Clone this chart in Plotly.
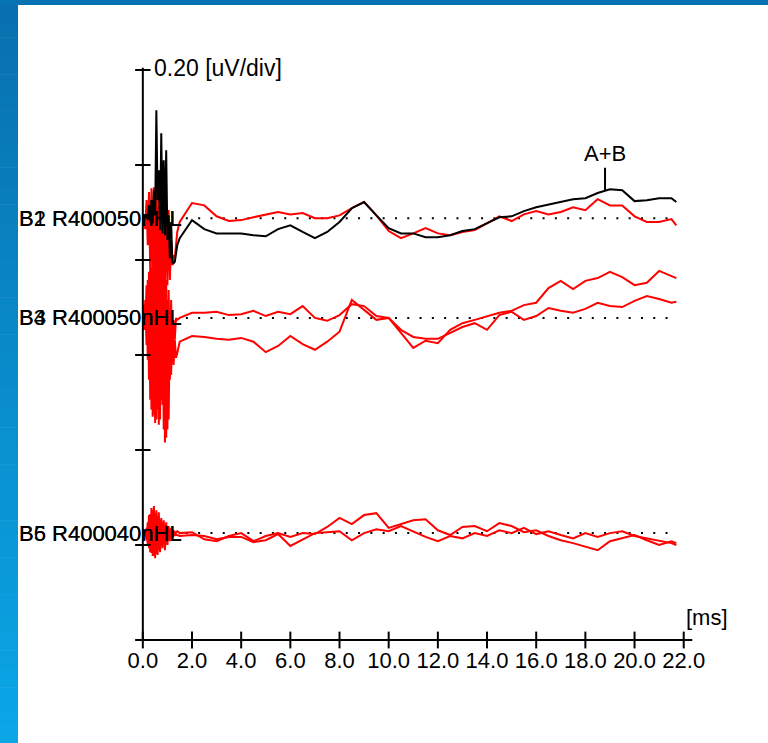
import plotly.graph_objects as go
import numpy as np

# Sample times (ms): every 0.05 ms through the stimulus artifact, then every 0.5 ms
time_ms = [0.0, 0.05, 0.1, 0.15, 0.2, 0.25, 0.3, 0.35, 0.4, 0.45, 0.5, 0.55, 0.6, 0.65, 0.7,
           0.75, 0.8, 0.85, 0.9, 0.95, 1.0, 1.05, 1.1, 1.15, 1.2, 1.25, 1.3, 1.35, 1.4,
           1.5, 2.0, 2.5, 3.0, 3.5, 4.0, 4.5, 5.0, 5.5, 6.0, 6.5, 7.0, 7.5, 8.0, 8.5,
           9.0, 9.5, 10.0, 10.5, 11.0, 11.5, 12.0, 12.5, 13.0, 13.5, 14.0, 14.5, 15.0,
           15.5, 16.0, 16.5, 17.0, 17.5, 18.0, 18.5, 19.0, 19.5, 20.0, 20.5, 21.0, 21.5, 21.7]

# Waveform amplitudes (uV) relative to each channel's baseline
wave_ab = [0.0, 0.0, 0.002, 0.008, -0.004, 0.027, -0.008, 0.038, -0.011, 0.059, 0.006, 0.227, 0.038, 0.101, -0.025,
           0.179, -0.032, 0.122, -0.036, 0.143, -0.046, 0.006, -0.084, -0.008, -0.092, -0.095, -0.092, -0.071, -0.057,
           -0.042, -0.004, -0.023, -0.032, -0.032, -0.032, -0.036, -0.038, -0.023, -0.015, -0.029, -0.042, -0.029, -0.008,
           0.021, 0.034, 0.006, -0.021, -0.032, -0.032, -0.040, -0.040, -0.036, -0.027, -0.023, -0.011, 0.002, 0.004,
           0.015, 0.023, 0.029, 0.034, 0.040, 0.042, 0.053, 0.061, 0.059, 0.036, 0.038, 0.042, 0.042, 0.034]
wave_b1 = [0.0, 0.008, -0.023, 0.038, -0.057, 0.055, -0.109, 0.063, -0.134, 0.065, -0.147, 0.059, -0.152, 0.065, -0.147,
           0.055, -0.152, 0.048, -0.147, 0.038, -0.141, 0.017, -0.130, -0.046, -0.099, -0.078, -0.084, -0.046, -0.029,
           -0.008, 0.032, 0.027, 0.004, -0.006, -0.004, 0.002, 0.008, 0.013, 0.008, 0.011, 0.0, 0.0, 0.006,
           0.021, 0.034, 0.006, -0.027, -0.042, -0.032, -0.021, -0.032, -0.036, -0.029, -0.025, -0.011, 0.004, -0.006,
           0.008, 0.015, 0.008, 0.013, 0.023, 0.017, 0.040, 0.027, 0.027, 0.004, -0.008, -0.008, -0.002, -0.015]
wave_b3 = [0.0, 0.027, -0.025, 0.069, -0.088, 0.097, -0.172, 0.105, -0.208, 0.111, -0.221, 0.101, -0.193, 0.105, -0.214,
           0.097, -0.183, 0.090, -0.262, 0.080, -0.235, 0.059, -0.130, 0.038, -0.088, -0.004, -0.046, 0.0, -0.004,
           0.0, 0.011, 0.011, 0.013, 0.006, 0.008, 0.015, 0.004, 0.013, 0.008, 0.025, 0.0, -0.006, 0.006,
           0.029, 0.025, 0.004, 0.0, -0.025, -0.040, -0.044, -0.044, -0.032, -0.019, -0.011, -0.025, 0.006, 0.013,
           -0.004, 0.004, 0.021, 0.015, 0.011, 0.019, 0.032, 0.025, 0.023, 0.036, 0.046, 0.040, 0.032, 0.034]
wave_b4 = [0.0, -0.025, 0.038, -0.057, 0.080, -0.130, 0.101, -0.193, 0.111, -0.204, 0.090, -0.214, 0.101, -0.225, 0.080,
           -0.172, 0.101, -0.235, 0.069, -0.252, 0.038, -0.214, -0.004, -0.120, -0.025, -0.099, -0.046, -0.084, -0.074,
           -0.050, -0.038, -0.040, -0.044, -0.046, -0.042, -0.050, -0.072, -0.059, -0.038, -0.055, -0.067, -0.050, -0.029,
           0.038, 0.017, -0.004, 0.0, -0.032, -0.063, -0.048, -0.053, -0.025, -0.011, -0.004, 0.004, 0.011, 0.015,
           0.027, 0.032, 0.063, 0.078, 0.061, 0.078, 0.084, 0.097, 0.086, 0.069, 0.074, 0.099, 0.088, 0.084]
wave_b5 = [0.0, 0.004, -0.006, 0.011, -0.025, 0.038, -0.040, 0.053, -0.048, 0.057, -0.053, 0.048, -0.046, 0.044, -0.040,
           0.032, -0.032, 0.027, -0.036, 0.023, -0.025, 0.015, -0.017, 0.011, -0.011, 0.006, -0.006, 0.002, 0.004,
           0.0, 0.002, -0.013, -0.017, -0.006, 0.0, -0.017, -0.006, 0.0, -0.008, 0.0, -0.002, 0.013, 0.032,
           0.019, 0.038, 0.042, 0.011, 0.019, 0.027, 0.029, 0.006, -0.004, 0.013, 0.015, 0.004, 0.021, 0.015,
           0.002, 0.006, -0.006, -0.015, -0.021, -0.029, -0.036, -0.017, -0.011, -0.004, -0.015, -0.025, -0.017, -0.021]
wave_b6 = [0.0, -0.004, 0.006, -0.015, 0.023, -0.032, 0.040, -0.042, 0.048, -0.048, 0.042, -0.044, 0.036, -0.036, 0.027,
           -0.027, 0.023, -0.023, 0.017, -0.017, 0.013, -0.013, 0.008, -0.008, 0.004, -0.006, 0.002, -0.004, -0.004,
           -0.006, -0.004, -0.006, -0.013, -0.008, -0.008, -0.019, -0.015, -0.002, -0.027, -0.013, 0.0, 0.002, 0.004,
           -0.015, 0.0, 0.008, 0.004, 0.015, 0.004, -0.008, -0.017, -0.006, -0.011, 0.0, -0.006, 0.006, 0.0,
           0.011, -0.002, 0.004, -0.004, -0.011, 0.0, -0.008, 0.0, 0.004, -0.006, -0.011, -0.017, -0.021, -0.025]

# Channel baselines (uV above the time axis) and their labels
baseline_12 = 0.888
baseline_34 = 0.678
baseline_56 = 0.225
labels_12 = ["B1 R400050nHL", "B2 R400050nHL"]
labels_34 = ["B3 R400050nHL", "B4 R400050nHL"]
labels_56 = ["B5 R400040nHL", "B6 R400040nHL"]

# Axis ticks
x_ticks = [0, 2, 4, 6, 8, 10, 12, 14, 16, 18, 20, 22]
x_tick_text = ["0.0", "2.0", "4.0", "6.0", "8.0", "10.0", "12.0", "14.0", "16.0", "18.0", "20.0", "22.0"]
y_ticks = [0.0, 0.2, 0.4, 0.6, 0.8, 1.0, 1.2]
scale_text = "0.20 [uV/div]"
time_unit = "[ms]"

# Wave V peak marker on the summed trace
peak_label = "A+B"
peak_latency = 18.8

FONT = "Liberation Sans, Arial, sans-serif"
RED = "#ff0000"
BLACK = "#000000"

W, H = 768, 743
ML, MR, MT, MB = 133, 72, 61, 94
X_RANGE = [-0.4, 22.5]
Y_RANGE = [-0.01895, 1.21895]

fig = go.Figure()

t = np.array(time_ms)


def add_wave(values, base, color):
    fig.add_trace(go.Scatter(
        x=t, y=base + np.array(values), mode="lines",
        line=dict(color=color, width=2), hoverinfo="skip", showlegend=False))


# dotted baselines
for base in (baseline_12, baseline_34, baseline_56):
    fig.add_trace(go.Scatter(
        x=[1.75, 21.5], y=[base, base], mode="lines",
        line=dict(color=BLACK, width=2, dash="2px,10.3px"),
        hoverinfo="skip", showlegend=False))

add_wave(wave_b5, baseline_56, RED)
add_wave(wave_b6, baseline_56, RED)
add_wave(wave_b3, baseline_34, RED)
add_wave(wave_b4, baseline_34, RED)
add_wave(wave_b1, baseline_12, RED)
add_wave(wave_ab, baseline_12, BLACK)

# axis lines
fig.add_trace(go.Scatter(x=[-0.2, 22.35], y=[0, 0], mode="lines",
                         line=dict(color=BLACK, width=2), hoverinfo="skip", showlegend=False))
fig.add_trace(go.Scatter(x=[0, 0], y=[0, 1.205], mode="lines",
                         line=dict(color=BLACK, width=2), hoverinfo="skip", showlegend=False))
# cross-shaped tick marks
fig.add_trace(go.Scatter(x=x_ticks, y=[0] * len(x_ticks), mode="markers",
                         marker=dict(symbol="line-ns", size=12, line=dict(color=BLACK, width=2)),
                         cliponaxis=False, hoverinfo="skip", showlegend=False))
fig.add_trace(go.Scatter(x=[0] * len(y_ticks), y=y_ticks, mode="markers",
                         marker=dict(symbol="line-ew", size=11, line=dict(color=BLACK, width=2)),
                         cliponaxis=False, hoverinfo="skip", showlegend=False))

annotations = []
for labels, base in ((labels_12, baseline_12), (labels_34, baseline_34), (labels_56, baseline_56)):
    for lab in labels:
        annotations.append(dict(x=1.62, y=base, xref="x", yref="y", text=lab, showarrow=False,
                                xanchor="right", yanchor="middle", borderpad=0,
                                font=dict(family=FONT, size=22, color=BLACK)))

annotations.append(dict(x=0.4, y=1.204, xref="x", yref="y", text=scale_text, showarrow=False,
                        xanchor="left", yanchor="middle", borderpad=0,
                        font=dict(family=FONT, size=23, color=BLACK)))

peak_y = baseline_12 + float(np.interp(peak_latency, t, wave_ab))
annotations.append(dict(x=peak_latency, y=peak_y, xref="x", yref="y", text=peak_label,
                        showarrow=True, arrowhead=0, arrowwidth=2, arrowcolor=BLACK,
                        ax=0, ay=-37, font=dict(family=FONT, size=22, color=BLACK)))

# slide frame: thin top band and a vertical gradient band on the left
plot_w = W - ML - MR
plot_h = H - MT - MB


def px_to_paper_x(px):
    return (px - ML) / plot_w


def py_to_paper_y(py):
    return (H - MB - py) / plot_h


annotations.append(dict(x=px_to_paper_x(707), y=py_to_paper_y(617), xref="paper", yref="paper",
                        text=time_unit, showarrow=False, xanchor="center", yanchor="middle",
                        font=dict(family=FONT, size=22, color=BLACK)))

shapes = []
top_rgb = np.array([8, 112, 174])
bot_rgb = np.array([10, 166, 230])
n_bands = 40
for i in range(n_bands):
    f = i / (n_bands - 1)
    c = (top_rgb + (bot_rgb - top_rgb) * f).round().astype(int)
    y0 = i * H / n_bands
    y1 = (i + 1) * H / n_bands + 0.5
    shapes.append(dict(type="rect", xref="paper", yref="paper",
                       x0=px_to_paper_x(0), x1=px_to_paper_x(18),
                       y0=py_to_paper_y(y1), y1=py_to_paper_y(y0),
                       fillcolor=f"rgb({c[0]},{c[1]},{c[2]})", line=dict(width=0), layer="above"))
shapes.append(dict(type="rect", xref="paper", yref="paper",
                   x0=px_to_paper_x(0), x1=px_to_paper_x(W),
                   y0=py_to_paper_y(5), y1=py_to_paper_y(0),
                   fillcolor="rgb(7,115,178)", line=dict(width=0), layer="above"))

fig.update_layout(
    width=W, height=H,
    margin=dict(l=ML, r=MR, t=MT, b=MB),
    paper_bgcolor="white", plot_bgcolor="white",
    showlegend=False,
    xaxis=dict(range=X_RANGE, tickvals=x_ticks, ticktext=x_tick_text, ticks="",
               showgrid=False, zeroline=False, showline=False, tickangle=0,
               tickfont=dict(family=FONT, size=22, color=BLACK),
               ticklabelstandoff=-4),
    yaxis=dict(range=Y_RANGE, showticklabels=False, ticks="", showgrid=False,
               zeroline=False, showline=False),
    annotations=annotations,
    shapes=shapes,
)

fig.write_html("out.html")
